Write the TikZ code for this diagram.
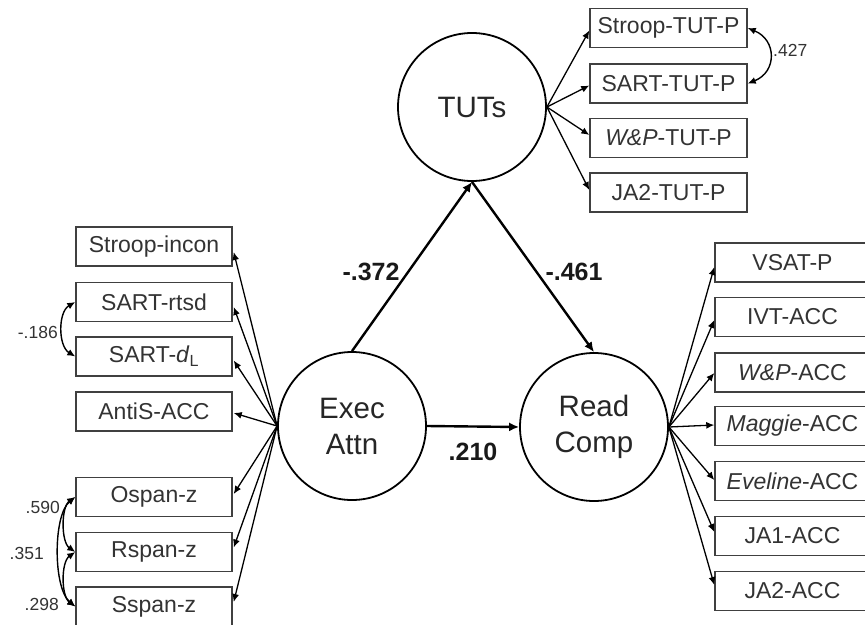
\documentclass[tikz,border=0pt]{standalone}
\usepackage{fontspec}
\setmainfont{Liberation Sans}
\usetikzlibrary{arrows.meta,calc}
\begin{document}
\begin{tikzpicture}[x=1pt,y=-1pt,
  ind/.style={draw=black!75, line width=1.4pt, minimum width=156pt, minimum height=39pt, inner sep=0pt, font=\fontsize{23}{27}\selectfont, text=black!80},
  lat/.style={circle, draw=black, line width=1.8pt, minimum size=148pt, inner sep=0pt, align=center, font=\fontsize{29.5}{36}\selectfont, text=black!85},
  load/.style={draw=black, line width=1.3pt, -{Latex[length=8pt,width=7pt]}},
  spath/.style={draw=black, line width=2.4pt, -{Latex[length=10pt,width=9pt]}},
  cov/.style={draw=black, line width=1.4pt, {Latex[length=8pt,width=7pt]}-{Latex[length=8pt,width=7pt]}},
  coef/.style={font=\bfseries\fontsize{25}{30}\selectfont, text=black!90, inner sep=0pt},
  cl/.style={font=\fontsize{17.5}{21}\selectfont, text=black!80, inner sep=0pt}
]
\useasboundingbox (0,0) rectangle (865,624);
\clip (0,0) rectangle (865,624);

% latent variables
\node[lat] (E) at (352,426) {Exec\\Attn};
\node[lat] (T) at (472,107) {TUTs};
\node[lat] (R) at (594,427) {Read\\Comp};

% left indicators
\node[ind] (L1) at (154,246.5) {Stroop-incon};
\node[ind] (L2) at (154,302) {SART-rtsd};
\node[ind] (L3) at (154,356.5) {SART-\textit{d}\textsubscript{L}};
\node[ind] (L4) at (154,411.5) {AntiS-ACC};
\node[ind] (L5) at (154,497) {Ospan-z};
\node[ind] (L6) at (154,552) {Rspan-z};
\node[ind] (L7) at (154,606.5) {Sspan-z};

% TUT indicators
\node[ind, minimum width=157pt] (T1) at (668.5,28) {Stroop-TUT-P};
\node[ind, minimum width=157pt] (T2) at (668.5,83.5) {SART-TUT-P};
\node[ind, minimum width=157pt] (T3) at (668.5,138) {\textit{W\&P}-TUT-P};
\node[ind, minimum width=157pt] (T4) at (668.5,192.5) {JA2-TUT-P};

% right indicators
\node[ind, minimum width=155pt] (R1) at (792.5,262.5) {VSAT-P};
\node[ind, minimum width=155pt] (R2) at (792.5,317) {IVT-ACC};
\node[ind, minimum width=155pt] (R3) at (792.5,372.5) {\textit{W\&P}-ACC};
\node[ind, minimum width=155pt] (R4) at (792.5,426) {\textit{Maggie}-ACC};
\node[ind, minimum width=155pt] (R5) at (792.5,481) {\textit{Eveline}-ACC};
\node[ind, minimum width=155pt] (R6) at (792.5,536) {JA1-ACC};
\node[ind, minimum width=155pt] (R7) at (792.5,591) {JA2-ACC};

% loadings
\foreach \n/\d in {L1/5.5, L2/5, L3/4, L4/1.5, L5/-3, L6/-4.5, L7/-4.5}
  \draw[load] (E.west) -- ($(\n.east)+(1,\d)$);
\foreach \n/\d in {T1/2.5, T2/2, T3/-3, T4/-2.5}
  \draw[load] (T.east) -- ($(\n.west)+(0,\d)$);
\foreach \n/\d in {R1/4.5, R2/3, R3/0.5, R4/-1, R5/-1, R6/-4, R7/-6}
  \draw[load] (R.east) -- ($(\n.west)+(0,\d)$);

% structural paths
\draw[spath] (E.north) -- (T.south);
\draw[spath] (T.south) -- (R.north);
\draw[spath] (E.east) -- (R.west);
\node[coef] (c1) at (371,272) {-.372};
\node[coef] (c2) at (574,272) {-.461};
\node[coef] (c3) at (473,452) {.210};

% covariances
\draw[cov] (L2.west) .. controls (58,312) and (58,346) .. (L3.west);
\draw[cov] (L5.west) .. controls (61,507) and (61,542) .. (L6.west);
\draw[cov] (L5.west) .. controls (53,515) and (53,588) .. (L7.west);
\draw[cov] (L6.west) .. controls (61,562) and (61,596) .. (L7.west);
\draw[cov] (T1.east) .. controls (777,40) and (777,72) .. (T2.east);
\node[cl, anchor=east] (k1) at (58,332) {-.186};
\node[cl, anchor=east] (k2) at (60,507) {.590};
\node[cl, anchor=east] (k3) at (44,553) {.351};
\node[cl, anchor=east] (k4) at (59,604) {.298};
\node[cl, anchor=west] (k5) at (773,50) {.427};
\end{tikzpicture}
\end{document}
